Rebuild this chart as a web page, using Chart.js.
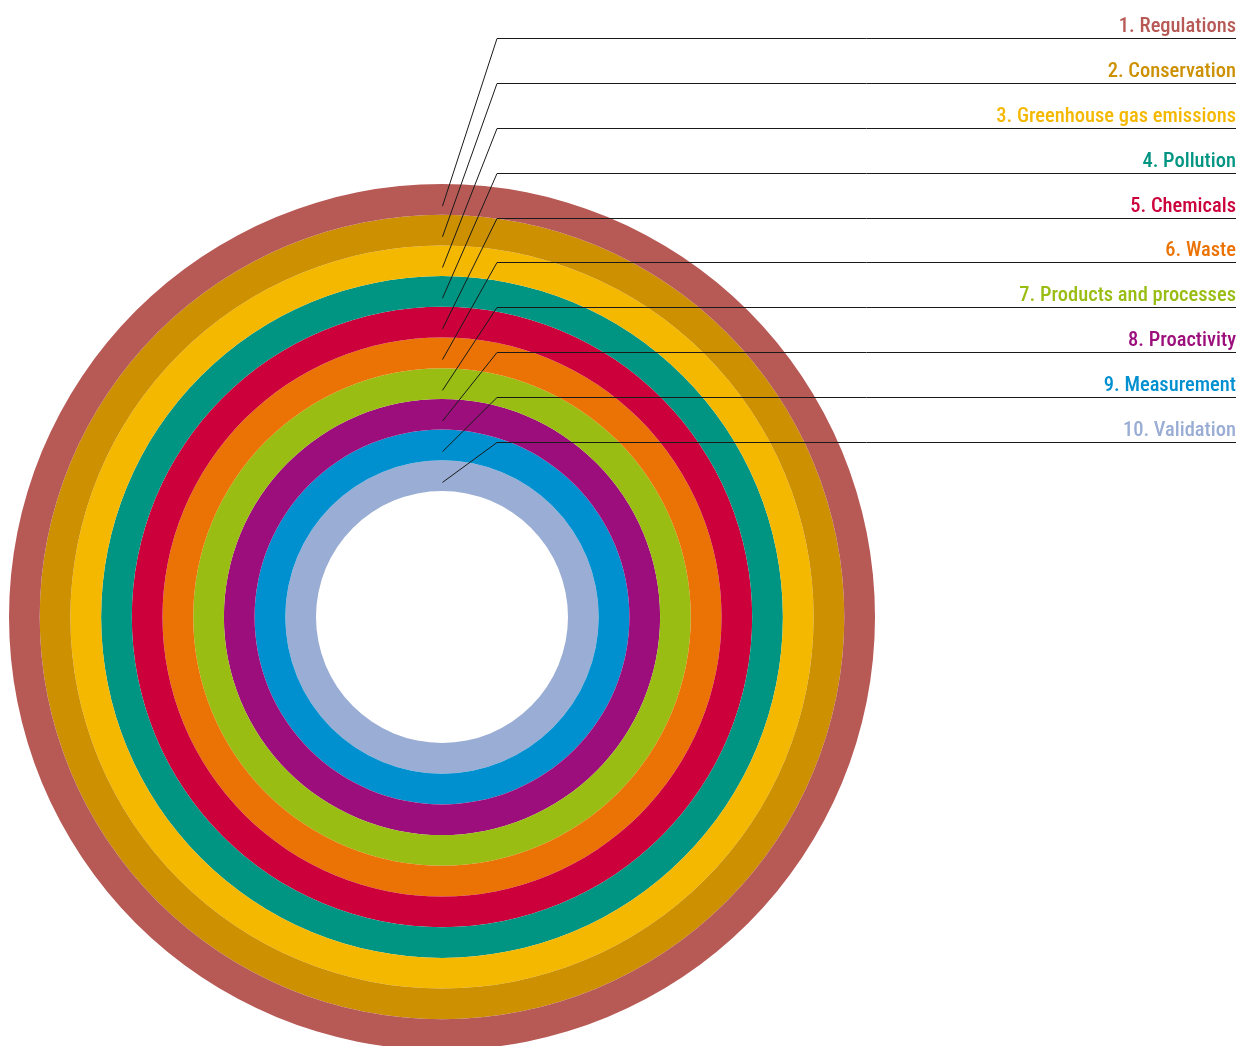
<!DOCTYPE html>
<html>
<head>
<meta charset="utf-8">
<title>Environmental themes</title>
<script src="https://cdn.jsdelivr.net/npm/chart.js@4.4.1/dist/chart.umd.min.js"></script>
<style>
  html, body { margin: 0; padding: 0; background: #ffffff; overflow: hidden; }
  #wrap { position: relative; width: 1239px; height: 1046px; }
</style>
</head>
<body>
<div id="wrap"><canvas id="rings" width="1239" height="1046"></canvas></div>
<script>
// Themes, outermost ring first
const themes = [
  '1. Regulations',
  '2. Conservation',
  '3. Greenhouse gas emissions',
  '4. Pollution',
  '5. Chemicals',
  '6. Waste',
  '7. Products and processes',
  '8. Proactivity',
  '9. Measurement',
  '10. Validation'
];
// Each theme is one full ring of equal weight
const ringValues = [1, 1, 1, 1, 1, 1, 1, 1, 1, 1];
const ringColors = [
  '#B75A56', '#CC9000', '#F5B800', '#009582', '#CC003A',
  '#EB7305', '#99BD12', '#9C0E7B', '#0090D0', '#9AADD4'
];

// Leader lines and right-aligned captions for every ring
const leaderPlugin = {
  id: 'leaders',
  afterDraw(chart) {
    const ctx = chart.ctx;
    const rightX = 1236;
    const elbowX = 497;
    const firstY = 38.3;
    const step = 44.8;
    ctx.save();
    chart.data.datasets.forEach((ds, i) => {
      const arc = chart.getDatasetMeta(i).data[0];
      if (!arc) return;
      const thick = arc.outerRadius - arc.innerRadius;
      const tipR = arc.outerRadius - 0.72 * thick;
      const tipX = arc.x + 0.5;
      const tipY = arc.y - tipR;
      const lineY = Math.round(firstY + step * i) + 0.5;

      ctx.strokeStyle = '#1a1a1a';
      ctx.lineWidth = 1;
      ctx.beginPath();
      ctx.moveTo(tipX, tipY);
      ctx.lineTo(elbowX, lineY);
      ctx.lineTo(rightX, lineY);
      ctx.stroke();

      ctx.fillStyle = ringColors[i];
      ctx.font = '500 20.5px "Liberation Sans Narrow", "Roboto Condensed", "DejaVu Sans Condensed", sans-serif';
      ctx.textAlign = 'right';
      ctx.textBaseline = 'alphabetic';
      ctx.fillText(themes[i], rightX, lineY - 6.5);
    });
    ctx.restore();
  }
};

new Chart(document.getElementById('rings'), {
  type: 'doughnut',
  data: {
    labels: ['share'],
    datasets: themes.map((name, i) => ({
      label: name,
      data: [ringValues[i]],
      backgroundColor: ringColors[i],
      borderWidth: 0
    }))
  },
  options: {
    responsive: false,
    animation: false,
    events: [],
    radius: 433,
    cutout: '29.1%',
    layout: { padding: { left: 0, right: 355, top: 188, bottom: 0 } },
    plugins: {
      legend: { display: false },
      tooltip: { enabled: false }
    }
  },
  plugins: [leaderPlugin]
});
</script>
</body>
</html>
